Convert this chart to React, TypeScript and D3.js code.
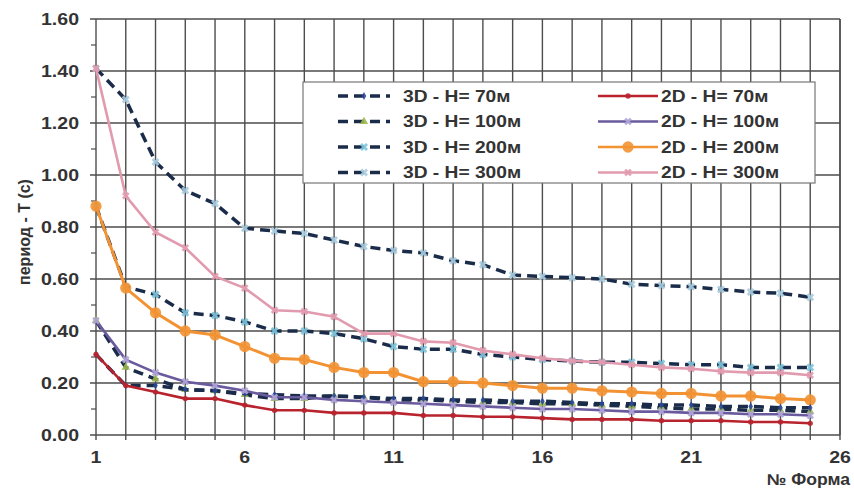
import React, { useEffect, useRef } from "react";
import * as d3 from "d3";

// mode numbers on the x axis
const modes = d3.range(1, 26);

// periods T (s)
const d3H70 = [0.31, 0.19, 0.19, 0.175, 0.17, 0.16, 0.155, 0.15, 0.15, 0.145, 0.14, 0.14, 0.135, 0.135, 0.13, 0.13, 0.125, 0.12, 0.12, 0.115, 0.115, 0.11, 0.11, 0.105, 0.105];
const d3H100 = [0.44, 0.26, 0.215, 0.175, 0.17, 0.155, 0.14, 0.14, 0.15, 0.145, 0.135, 0.135, 0.13, 0.125, 0.125, 0.12, 0.12, 0.115, 0.11, 0.105, 0.1, 0.1, 0.095, 0.095, 0.09];
const d3H200 = [0.88, 0.57, 0.54, 0.47, 0.46, 0.435, 0.4, 0.4, 0.39, 0.37, 0.34, 0.33, 0.33, 0.31, 0.3, 0.29, 0.285, 0.28, 0.28, 0.275, 0.27, 0.27, 0.26, 0.26, 0.26];
const d3H300 = [1.41, 1.29, 1.05, 0.94, 0.89, 0.795, 0.785, 0.775, 0.75, 0.725, 0.71, 0.7, 0.67, 0.655, 0.615, 0.61, 0.605, 0.6, 0.58, 0.575, 0.57, 0.56, 0.55, 0.545, 0.53];
const d2H70 = [0.31, 0.19, 0.165, 0.14, 0.14, 0.115, 0.095, 0.095, 0.085, 0.085, 0.085, 0.075, 0.075, 0.07, 0.07, 0.065, 0.06, 0.06, 0.06, 0.055, 0.055, 0.055, 0.05, 0.05, 0.045];
const d2H100 = [0.44, 0.29, 0.24, 0.205, 0.19, 0.17, 0.145, 0.145, 0.135, 0.13, 0.125, 0.12, 0.115, 0.11, 0.105, 0.1, 0.1, 0.095, 0.09, 0.09, 0.085, 0.085, 0.08, 0.08, 0.075];
const d2H200 = [0.88, 0.565, 0.47, 0.4, 0.385, 0.34, 0.295, 0.29, 0.26, 0.24, 0.24, 0.205, 0.205, 0.2, 0.19, 0.18, 0.18, 0.17, 0.165, 0.16, 0.16, 0.15, 0.15, 0.14, 0.135];
const d2H300 = [1.41, 0.92, 0.78, 0.72, 0.61, 0.565, 0.48, 0.475, 0.455, 0.39, 0.39, 0.36, 0.355, 0.325, 0.31, 0.295, 0.285, 0.28, 0.27, 0.26, 0.255, 0.245, 0.24, 0.24, 0.23];

const labels3D = ["3D - H= 70м", "3D - H= 100м", "3D - H= 200м", "3D - H= 300м"];
const labels2D = ["2D - H= 70м", "2D - H= 100м", "2D - H= 200м", "2D - H= 300м"];

const yTicks = [0, 0.2, 0.4, 0.6, 0.8, 1.0, 1.2, 1.4, 1.6];
const xTickLabels = [1, 6, 11, 16, 21, 26];

const W = 854;
const H = 491;
const FONT = "Liberation Sans, Arial, sans-serif";

const App = () => {
  const svgRef = useRef<SVGSVGElement>(null);

  useEffect(() => {
    const svg = d3.select(svgRef.current);
    svg.selectAll("*").remove();

    const x = d3.scaleLinear().domain([1, 26]).range([96, 840]);
    const y = d3.scaleLinear().domain([0, 1.6]).range([435, 19]);
    const grid = "#4d4d4d";

    svg.append("rect").attr("width", W).attr("height", H).attr("fill", "#fff");

    // grid
    svg
      .append("g")
      .selectAll("line")
      .data(d3.range(1, 27))
      .enter()
      .append("line")
      .attr("x1", (d) => x(d))
      .attr("x2", (d) => x(d))
      .attr("y1", y(1.6))
      .attr("y2", y(0) + 5)
      .attr("stroke", grid)
      .attr("stroke-width", 1.4);
    svg
      .append("g")
      .selectAll("line")
      .data(yTicks)
      .enter()
      .append("line")
      .attr("x1", x(1) - 6)
      .attr("x2", x(26))
      .attr("y1", (d) => y(d))
      .attr("y2", (d) => y(d))
      .attr("stroke", grid)
      .attr("stroke-width", 1.4);
    // minor ticks on y axis
    svg
      .append("g")
      .selectAll("line")
      .data(d3.range(0.1, 1.6, 0.2))
      .enter()
      .append("line")
      .attr("x1", x(1) - 5)
      .attr("x2", x(1))
      .attr("y1", (d) => y(d))
      .attr("y2", (d) => y(d))
      .attr("stroke", grid)
      .attr("stroke-width", 1.2);

    // tick labels
    svg
      .append("g")
      .selectAll("text")
      .data(yTicks)
      .enter()
      .append("text")
      .attr("transform", (d) => `translate(79,${y(d)}) scale(1.15,1)`)
      .attr("dy", "0.36em")
      .attr("text-anchor", "end")
      .style("font-family", FONT)
      .style("font-weight", "bold")
      .style("font-size", "17px")
      .attr("fill", "#333")
      .text((d) => d3.format(".2f")(d));
    svg
      .append("g")
      .selectAll("text")
      .data(xTickLabels)
      .enter()
      .append("text")
      .attr("transform", (d) => `translate(${x(d)},463) scale(1.15,1)`)
      .attr("text-anchor", "middle")
      .style("font-family", FONT)
      .style("font-weight", "bold")
      .style("font-size", "17px")
      .attr("fill", "#333")
      .text((d) => d);

    svg
      .append("text")
      .attr("transform", "translate(30,232) rotate(-90)")
      .attr("text-anchor", "middle")
      .style("font-family", FONT)
      .style("font-weight", "bold")
      .style("font-size", "16px")
      .attr("fill", "#333")
      .text("период - T (c)");
    svg
      .append("text")
      .attr("transform", "translate(850,485) scale(1.1,1)")
      .attr("text-anchor", "end")
      .style("font-family", FONT)
      .style("font-weight", "bold")
      .style("font-size", "16px")
      .attr("fill", "#333")
      .text("№ Форма");

    const sym = d3.symbol();
    const series = [
      { values: d3H70, color: "#1b2c4a", dashed: true, marker: { type: d3.symbolDiamond, size: 18, fill: "#2a4a9a", stroke: "none", rot: 0 } },
      { values: d3H100, color: "#1b2c4a", dashed: true, marker: { type: d3.symbolTriangle, size: 30, fill: "#9cb84e", stroke: "none", rot: 0 } },
      { values: d3H200, color: "#1b2c4a", dashed: true, marker: { type: d3.symbolCross, size: 40, fill: "#7cc4dc", stroke: "none", rot: 45 } },
      { values: d3H300, color: "#1b2c4a", dashed: true, marker: { type: d3.symbolCross, size: 40, fill: "#a8cde0", stroke: "none", rot: 45 } },
      { values: d2H70, color: "#b8232e", dashed: false, marker: { type: d3.symbolCircle, size: 22, fill: "#b8232e", stroke: "none", rot: 0 } },
      { values: d2H100, color: "#6a5a9e", dashed: false, marker: { type: d3.symbolCross, size: 36, fill: "#b0a4d8", stroke: "none", rot: 45 } },
      { values: d2H200, color: "#f29232", dashed: false, marker: { type: d3.symbolCircle, size: 100, fill: "#f29232", stroke: "none", rot: 0 } },
      { values: d2H300, color: "#e29aae", dashed: false, marker: { type: d3.symbolCross, size: 36, fill: "#e29aae", stroke: "none", rot: 45 } },
    ];
    const drawOrder = [3, 2, 6, 7, 1, 0, 5, 4];

    const line = d3
      .line<number>()
      .x((_, i) => x(modes[i]))
      .y((d) => y(d));

    drawOrder.forEach((k) => {
      const s = series[k];
      const g = svg.append("g");
      g.append("path")
        .datum(s.values)
        .attr("d", line)
        .attr("fill", "none")
        .attr("stroke", s.color)
        .attr("stroke-width", s.dashed ? 3.5 : s.color === "#f29232" ? 3 : 2.6)
        .attr("stroke-dasharray", s.dashed ? "10,6" : null);
      g.selectAll("path.m")
        .data(s.values)
        .enter()
        .append("path")
        .attr("class", "m")
        .attr("d", sym.type(s.marker.type).size(s.marker.size)())
        .attr("transform", (d, i) => `translate(${x(modes[i])},${y(d)}) rotate(${s.marker.rot})`)
        .attr("fill", s.marker.fill)
        .attr("opacity", 0.9);
    });

    // plot frame (right side)
    svg
      .append("line")
      .attr("x1", x(26))
      .attr("x2", x(26))
      .attr("y1", y(1.6))
      .attr("y2", y(0))
      .attr("stroke", grid)
      .attr("stroke-width", 1.4);

    // legend
    const legend = svg.append("g");
    legend
      .append("rect")
      .attr("x", 303)
      .attr("y", 82)
      .attr("width", 512)
      .attr("height", 101)
      .attr("fill", "#fff")
      .attr("stroke", "#777")
      .attr("stroke-width", 1.2);
    const rowY = (i: number) => 96 + i * 25.5;
    [labels3D, labels2D].forEach((labs, col) => {
      labs.forEach((lab, i) => {
        const s = series[col * 4 + i];
        const x0 = col === 0 ? 338 : 598;
        const x1 = col === 0 ? 390 : 658;
        const ly = rowY(i);
        legend
          .append("line")
          .attr("x1", x0)
          .attr("x2", x1)
          .attr("y1", ly)
          .attr("y2", ly)
          .attr("stroke", s.color)
          .attr("stroke-width", s.dashed ? 3.5 : 2.6)
          .attr("stroke-dasharray", s.dashed ? "10,6" : null);
        legend
          .append("path")
          .attr("d", sym.type(s.marker.type).size(s.marker.size)())
          .attr("transform", `translate(${(x0 + x1) / 2},${ly}) rotate(${s.marker.rot})`)
          .attr("fill", s.marker.fill)
          .attr("opacity", 0.9);
        legend
          .append("text")
          .attr("transform", `translate(${col === 0 ? 403 : 661},${ly}) scale(1.2,1)`)
          .attr("dy", "0.36em")
          .style("font-family", FONT)
          .style("font-weight", "bold")
          .style("font-size", "16px")
          .attr("fill", "#333")
          .text(lab);
      });
    });
  }, []);

  return <svg ref={svgRef} width={W} height={H} style={{ position: "absolute", left: 0, top: 0 }}></svg>;
};

export default App;
